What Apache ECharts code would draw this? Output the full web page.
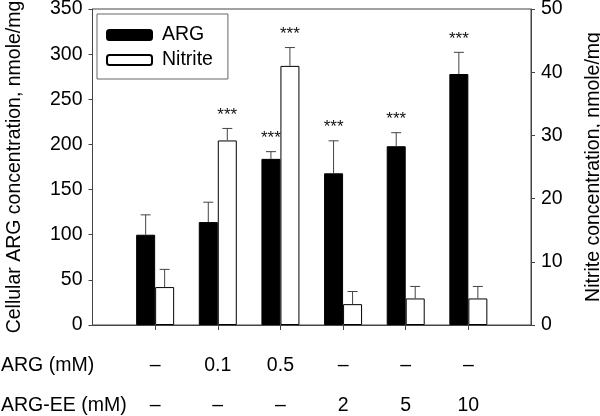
<!DOCTYPE html>
<html>
<head>
<meta charset="utf-8">
<script src="https://cdn.jsdelivr.net/npm/echarts@6/dist/echarts.min.js"></script>
<style>
  html, body { margin: 0; padding: 0; background: #fff; }
  #chart { width: 600px; height: 416px; }
</style>
</head>
<body>
<div id="chart"></div>
<script>
// treatments (first and last slot are empty padding)
var categories = ['', 'control', 'ARG 0.1', 'ARG 0.5', 'ARG-EE 2', 'ARG-EE 5', 'ARG-EE 10', ''];
var argRow = ['', '–', '0.1', '0.5', '–', '–', '–', ''];
var eeRow = ['', '–', '–', '–', '2', '5', '10', ''];

var argMean = [100, 114, 184, 168, 198, 278];
var argErr = [22, 22, 8, 36, 15, 24];
var argSig = [0, 0, 1, 1, 1, 1];

var nitMean = [6.0, 29.2, 41.0, 3.3, 4.2, 4.2];
var nitErr = [2.8, 1.9, 2.9, 2.0, 1.9, 1.9];
var nitSig = [0, 1, 1, 0, 0, 0];

var leftTicks = { min: 0, max: 350, interval: 50 };
var rightTicks = { min: 0, max: 50, interval: 10 };

var FONT = 'Liberation Sans, Arial, sans-serif';
var FS = 19.5;
var AXIS_COLOR = '#444';

function pad(arr) {
	return ['-'].concat(arr, ['-']);
}

function errData(mean, err, sig) {
	return mean.map(function(m, i) {
		return [i + 1, m, m + err[i], sig[i]];
	});
}

function errRenderer(dx) {
	return function(params, api) {
		var base = api.coord([api.value(0), api.value(1)]);
		var top = api.coord([api.value(0), api.value(2)]);
		var x = base[0] + dx;
		var style = { stroke: AXIS_COLOR, lineWidth: 1 };
		var children = [
			{ type: 'line', shape: { x1: x, y1: base[1], x2: x, y2: top[1] }, style: style },
			{ type: 'line', shape: { x1: x - 5, y1: top[1], x2: x + 5, y2: top[1] }, style: style }
		];
		if (api.value(3)) {
			children.push({
				type: 'text',
				style: {
					x: x, y: top[1] - 5, text: '***',
					textAlign: 'center', textVerticalAlign: 'bottom',
					fontSize: 17, fontFamily: FONT, fill: '#111'
				}
			});
		}
		return { type: 'group', children: children };
	};
}

var myChart = echarts.init(document.getElementById('chart'));
var option = {
	animation: false,
	textStyle: { fontFamily: FONT },
	grid: {
		left: 92.5, right: 69, top: 9, bottom: 91,
		outerBoundsMode: 'none',
		show: true, borderColor: AXIS_COLOR, borderWidth: 1
	},
	legend: {
		data: ['ARG', 'Nitrite'],
		orient: 'vertical',
		left: 97, top: 14,
		padding: [11, 15, 9, 9],
		itemGap: 5,
		itemWidth: 45, itemHeight: 10,
		borderColor: '#666', borderWidth: 1,
		backgroundColor: '#fff',
		textStyle: { fontSize: FS, color: '#000', fontFamily: FONT, padding: [0, 0, 0, 5] }
	},
	graphic: [
		{ type: 'text', left: 1, top: 356, style: { text: 'ARG (mM)', fontSize: FS, fontFamily: FONT, fill: '#000' } },
		{ type: 'text', left: 1, top: 396, style: { text: 'ARG-EE (mM)', fontSize: FS, fontFamily: FONT, fill: '#000' } }
	],
	xAxis: {
		type: 'category',
		data: categories,
		boundaryGap: false,
		axisLine: { lineStyle: { color: AXIS_COLOR } },
		axisTick: {
			length: 5,
			interval: function(i) { return i > 0 && i < categories.length - 1; },
			lineStyle: { color: AXIS_COLOR }
		},
		axisLabel: {
			interval: 0,
			margin: 21,
			fontSize: FS,
			lineHeight: 40,
			color: '#000',
			formatter: function(v, i) { return argRow[i] + '\n' + eeRow[i]; }
		}
	},
	yAxis: [{
		type: 'value',
		min: leftTicks.min, max: leftTicks.max, interval: leftTicks.interval,
		name: 'Cellular ARG concentration, nmole/mg',
		nameLocation: 'middle', nameGap: 68,
		nameTextStyle: { fontSize: FS, color: '#000', fontFamily: FONT },
		axisLine: { show: true, lineStyle: { color: AXIS_COLOR } },
		axisTick: { show: true, length: 4, lineStyle: { color: AXIS_COLOR } },
		axisLabel: { fontSize: FS, color: '#000', margin: 10 },
		splitLine: { show: false }
	}, {
		type: 'value',
		position: 'right',
		min: rightTicks.min, max: rightTicks.max, interval: rightTicks.interval,
		name: 'Nitrite concentration, nmole/mg',
		nameLocation: 'middle', nameGap: 53, nameRotate: 90,
		nameTextStyle: { fontSize: FS, color: '#000', fontFamily: FONT },
		axisLine: { show: true, lineStyle: { color: AXIS_COLOR } },
		axisTick: { show: true, length: 4, lineStyle: { color: AXIS_COLOR } },
		axisLabel: { fontSize: FS, color: '#000', margin: 10 },
		splitLine: { show: false }
	}],
	series: [{
		name: 'ARG',
		type: 'bar',
		data: pad(argMean),
		barWidth: 19,
		barGap: '0%',
		itemStyle: { color: '#000', borderColor: '#000', borderWidth: 1 }
	}, {
		name: 'Nitrite',
		type: 'bar',
		yAxisIndex: 1,
		data: pad(nitMean),
		barWidth: 19,
		barGap: '0%',
		itemStyle: { color: '#fff', borderColor: '#000', borderWidth: 1 }
	}, {
		name: 'ARG err',
		type: 'custom',
		data: errData(argMean, argErr, argSig),
		renderItem: errRenderer(-9.5),
		z: 3
	}, {
		name: 'Nitrite err',
		type: 'custom',
		yAxisIndex: 1,
		data: errData(nitMean, nitErr, nitSig),
		renderItem: errRenderer(9.5),
		z: 3
	}]
};
myChart.setOption(option);
</script>
</body>
</html>
